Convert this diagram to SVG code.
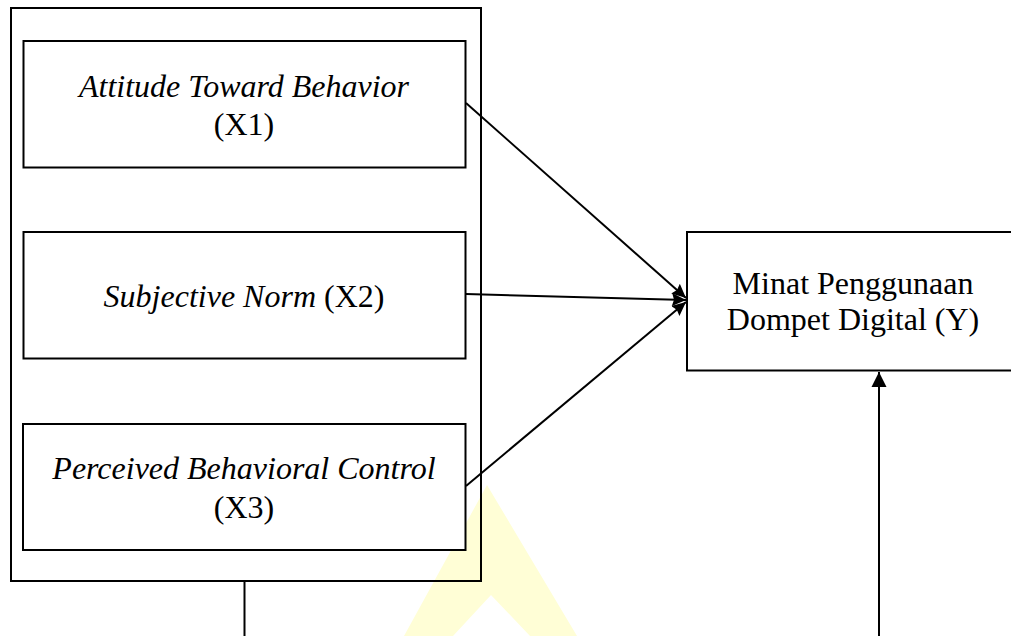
<svg xmlns="http://www.w3.org/2000/svg" width="1011" height="636" viewBox="0 0 1011 636">
  <style>
    .box { fill: #ffffff; stroke: #000000; stroke-width: 2; }
    .frame { fill: none; stroke: #000000; stroke-width: 2; }
    .conn { fill: none; stroke: #000000; stroke-width: 2; }
    text { font-family: "Liberation Serif", "Times New Roman", serif; font-size: 32px; fill: #000000; text-anchor: middle; }
    .it { font-style: italic; }
  </style>
  <defs>
    <marker id="arrowSmall" markerUnits="userSpaceOnUse" markerWidth="16" markerHeight="16" refX="14" refY="8" orient="auto">
      <path d="M0,1.5 L14,8 L0,14.5 L2,8 z" fill="#000000"/>
    </marker>
    <marker id="arrowUp" markerUnits="userSpaceOnUse" markerWidth="16" markerHeight="16" refX="15" refY="8" orient="auto">
      <path d="M0,0.5 L15,8 L0,15.5 z" fill="#000000"/>
    </marker>
  </defs>
  <rect width="1011" height="636" fill="#ffffff"/>
  <polygon id="watermark" points="487,485 577,636 530,636 491,595 453,636 404,636" fill="#FFFED6"/>

  <g id="group-x">
    <rect class="frame" x="11" y="8" width="470" height="573"/>
  </g>

  <g id="node-x1">
    <rect class="box" x="23.5" y="41" width="442" height="126.5"/>
    <text x="244" y="97" class="it">Attitude Toward Behavior</text>
    <text x="244" y="135">(X1)</text>
  </g>

  <g id="node-x2">
    <rect class="box" x="23.5" y="232" width="442" height="126.5"/>
    <text x="244" y="307"><tspan class="it">Subjective Norm</tspan> (X2)</text>
  </g>

  <g id="node-x3">
    <rect class="box" x="23" y="424" width="442.5" height="126"/>
    <text x="244" y="479" class="it">Perceived Behavioral Control</text>
    <text x="244" y="518">(X3)</text>
  </g>

  <g id="node-y">
    <rect class="box" x="687" y="232" width="330" height="138.5"/>
    <text x="853" y="294">Minat Penggunaan</text>
    <text x="853" y="330">Dompet Digital (Y)</text>
  </g>

  <g id="connectors">
    <line class="conn" x1="466" y1="103" x2="686" y2="298" marker-end="url(#arrowSmall)"/>
    <line class="conn" x1="466" y1="294" x2="686" y2="300" marker-end="url(#arrowSmall)"/>
    <line class="conn" x1="466" y1="486" x2="686" y2="302" marker-end="url(#arrowSmall)"/>
    <line class="conn" x1="244.5" y1="581" x2="244.5" y2="636"/>
    <line class="conn" x1="879" y1="636" x2="879" y2="372" marker-end="url(#arrowUp)"/>
  </g>
</svg>
